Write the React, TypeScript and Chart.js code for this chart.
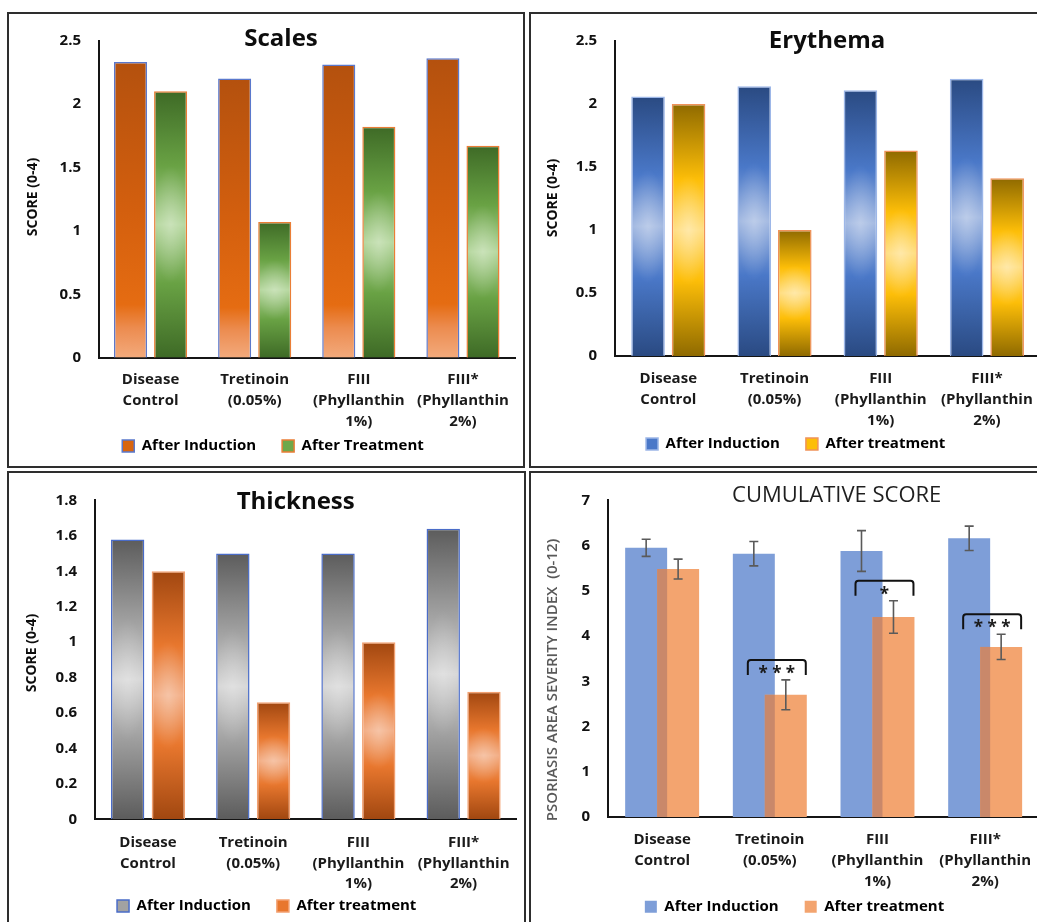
import React, { useEffect, useRef } from "react";
import { Chart, registerables } from "chart.js";

Chart.register(...registerables);

const FONT = '"Open Sans", "Liberation Sans", sans-serif';

// Treatment groups on every x axis (multi-line labels)
const groups: string[][] = [
  ["Disease", "Control"],
  ["Tretinoin", "(0.05%)"],
  ["FIII", "(Phyllanthin", "1%)"],
  ["FIII*", "(Phyllanthin", "2%)"],
];

// Scales score
const scalesInduction = [2.33, 2.2, 2.31, 2.36];
const scalesTreatment = [2.1, 1.07, 1.82, 1.67];
const scalesTicks = [0, 0.5, 1, 1.5, 2, 2.5];

// Erythema score
const erythemaInduction = [2.06, 2.14, 2.11, 2.2];
const erythemaTreatment = [2.0, 1.0, 1.63, 1.41];
const erythemaTicks = [0, 0.5, 1, 1.5, 2, 2.5];

// Thickness score
const thicknessInduction = [1.58, 1.5, 1.5, 1.64];
const thicknessTreatment = [1.4, 0.66, 1.0, 0.72];
const thicknessTicks = [0, 0.2, 0.4, 0.6, 0.8, 1, 1.2, 1.4, 1.6, 1.8];

// Cumulative PASI score, mean and error
const cumulativeInduction = [5.95, 5.82, 5.88, 6.16];
const cumulativeInductionErr = [0.19, 0.27, 0.45, 0.27];
const cumulativeTreatment = [5.48, 2.7, 4.42, 3.76];
const cumulativeTreatmentErr = [0.22, 0.33, 0.36, 0.28];
const cumulativeSignificance = ["", "***", "*", "***"];
const cumulativeTicks = [0, 1, 2, 3, 4, 5, 6, 7];

type Stop = [number, string];
type Rect = { x: number; y: number; w: number; h: number };
type Series = {
  label: string;
  data: number[];
  color: string;
  stops?: Stop[];
  glow?: number;
  border?: string;
  borderWidth?: number;
};
type PanelSpec = {
  box: Rect;
  canvas: Rect;
  area: { L: number; T: number; R: number; B: number };
  legendAt: { x: number; y: number };
  title: string;
  titleFont: string;
  titleColor: string;
  titleAt: { x: number; y: number };
  yTitle: string;
  yTitleFont: string;
  yTitleColor: string;
  yTitleAt: { x: number; y: number };
  ticks: number[];
  series: Series[];
  catPct: number;
  barPct: number;
  tickPad: number;
  xTickPad: number;
  cumulative?: boolean;
};

// Vertical gradient with a soft centre highlight, stretched over each bar
function paintBarImage(stops: Stop[], glow: number): HTMLCanvasElement {
  const c = document.createElement("canvas");
  c.width = 40;
  c.height = 300;
  const g = c.getContext("2d")!;
  const lin = g.createLinearGradient(0, 0, 0, 300);
  stops.forEach(([o, col]) => lin.addColorStop(o, col));
  g.fillStyle = lin;
  g.fillRect(0, 0, 40, 300);
  if (glow > 0) {
    g.save();
    g.translate(20, 150);
    g.scale(1, 3);
    const r = g.createRadialGradient(0, 0, 0, 0, 0, 22);
    r.addColorStop(0, `rgba(255,255,255,${glow})`);
    r.addColorStop(1, "rgba(255,255,255,0)");
    g.fillStyle = r;
    g.fillRect(-20, -50, 40, 100);
    g.restore();
  }
  return c;
}

// Same bar placement rule Chart.js uses for grouped category bars
function barGeometry(chart: any, datasetIndex: number, index: number, value: number, catPct: number, barPct: number, count: number) {
  const xs = chart.scales.x;
  const ys = chart.scales.y;
  const catW = xs.width / xs.getLabels().length;
  const slot = (catW * catPct) / count;
  const w = slot * barPct;
  const cx = xs.getPixelForValue(index) + (datasetIndex - (count - 1) / 2) * slot;
  const top = ys.getPixelForValue(value);
  const base = ys.getPixelForValue(0);
  return { left: cx - w / 2, right: cx + w / 2, cx, top, base, width: w };
}

function patternFill(img: HTMLCanvasElement, solid: string, catPct: number, barPct: number) {
  return (c: any) => {
    if (c.type !== "data" || !c.chart.scales || !c.chart.scales.x) return solid;
    const g = barGeometry(c.chart, c.datasetIndex, c.dataIndex, c.raw, catPct, barPct, 2);
    const h = g.base - g.top;
    if (!(h > 0) || !(g.width > 0)) return solid;
    const p = c.chart.ctx.createPattern(img, "no-repeat");
    p.setTransform(new DOMMatrix().translate(g.left, g.top).scale(g.width / img.width, h / img.height));
    return p;
  };
}

function textPlugin(spec: PanelSpec) {
  return {
    id: "panelText",
    afterDraw(chart: any) {
      const ctx = chart.ctx;
      const ox = spec.canvas.x;
      const oy = spec.canvas.y;
      ctx.save();
      ctx.textAlign = "center";
      ctx.textBaseline = "middle";
      ctx.fillStyle = spec.titleColor;
      ctx.font = spec.titleFont;
      ctx.fillText(spec.title, spec.titleAt.x - ox, spec.titleAt.y - oy);
      ctx.translate(spec.yTitleAt.x - ox, spec.yTitleAt.y - oy);
      ctx.rotate(-Math.PI / 2);
      ctx.fillStyle = spec.yTitleColor;
      ctx.font = spec.yTitleFont;
      ctx.fillText(spec.yTitle, 0, 0);
      ctx.restore();
    },
  };
}

const OVERLAP_SHADE = "#C9886A";

// Draws induction bars first, treatment bars on top, then error bars and significance brackets
function cumulativePlugin(spec: PanelSpec) {
  return {
    id: "cumulativeLayers",
    beforeDatasetsDraw(chart: any) {
      const ctx = chart.ctx;
      const metas = chart.getSortedVisibleDatasetMetas().slice().sort((a: any, b: any) => a.index - b.index);
      metas.forEach((m: any) => m.controller.draw());
      const ys = chart.scales.y;
      const geo = (ds: number, i: number, v: number) => barGeometry(chart, ds, i, v, spec.catPct, spec.barPct, 2);
      ctx.save();
      cumulativeTreatment.forEach((v, i) => {
        const a = geo(0, i, cumulativeInduction[i]);
        const b = geo(1, i, v);
        const left = Math.max(a.left, b.left);
        const right = Math.min(a.right, b.right);
        const top = Math.max(a.top, b.top);
        if (right > left) {
          ctx.fillStyle = OVERLAP_SHADE;
          ctx.fillRect(left, top, right - left, b.base - top);
        }
      });
      ctx.strokeStyle = "#5a5a5a";
      ctx.lineWidth = 1.6;
      const errBar = (cx: number, v: number, e: number) => {
        const y1 = ys.getPixelForValue(v + e);
        const y2 = ys.getPixelForValue(v - e);
        ctx.beginPath();
        ctx.moveTo(cx, y1);
        ctx.lineTo(cx, y2);
        ctx.moveTo(cx - 4.5, y1);
        ctx.lineTo(cx + 4.5, y1);
        ctx.moveTo(cx - 4.5, y2);
        ctx.lineTo(cx + 4.5, y2);
        ctx.stroke();
      };
      cumulativeInduction.forEach((v, i) => errBar(geo(0, i, v).cx, v, cumulativeInductionErr[i]));
      cumulativeTreatment.forEach((v, i) => errBar(geo(1, i, v).cx, v, cumulativeTreatmentErr[i]));
      ctx.strokeStyle = "#111";
      ctx.fillStyle = "#1a1a1a";
      ctx.lineWidth = 2;
      ctx.font = `bold 17px ${FONT}`;
      ctx.textAlign = "center";
      ctx.textBaseline = "alphabetic";
      cumulativeSignificance.forEach((mark, i) => {
        if (!mark) return;
        const a = geo(0, i, cumulativeInduction[i]);
        const b = geo(1, i, cumulativeTreatment[i]);
        const errTop = ys.getPixelForValue(cumulativeTreatment[i] + cumulativeTreatmentErr[i]);
        const top = errTop - 20;
        const legs = 15;
        const left = a.cx - 6;
        const right = b.right - 1;
        ctx.beginPath();
        ctx.moveTo(left, top + legs);
        ctx.arcTo(left, top, left + 6, top, 3);
        ctx.arcTo(right, top, right, top + 6, 3);
        ctx.lineTo(right, top + legs);
        ctx.stroke();
        ctx.fillText(mark.split("").join(" "), (left + right) / 2, top + 19);
      });
      ctx.restore();
      return false;
    },
  };
}

function createPanelChart(el: HTMLCanvasElement, spec: PanelSpec) {
  const LEGEND_FONT = 15;
  const LEGEND_GAP = 26;
  const BOX = 12;
  const itemH = Math.max(LEGEND_FONT, BOX);
  const { canvas: cv, area } = spec;
  const pr = cv.x + cv.w - area.R;
  const pl = 2 * (spec.legendAt.x - cv.x) - cv.w + pr;
  const yWidth = area.L - cv.x - pl;
  const pt = area.T - cv.y;
  const pb = cv.y + cv.h - spec.legendAt.y - 10 - itemH / 2;
  const legendH = itemH + LEGEND_GAP + 10;
  const xHeight = cv.y + cv.h - pb - legendH - area.B;

  const datasets = spec.series.map((s) => ({
    label: s.label,
    data: s.data,
    backgroundColor: s.stops
      ? patternFill(paintBarImage(s.stops, s.glow || 0), s.color, spec.catPct, spec.barPct)
      : s.color,
    borderColor: s.border || s.color,
    borderWidth: s.borderWidth || 0,
    borderSkipped: "bottom",
    categoryPercentage: spec.catPct,
    barPercentage: spec.barPct,
  }));

  const plugins: any[] = [textPlugin(spec)];
  if (spec.cumulative) plugins.push(cumulativePlugin(spec));

  return new Chart(el, {
    type: "bar",
    data: { labels: groups, datasets } as any,
    plugins,
    options: {
      responsive: false,
      animation: false,
      devicePixelRatio: 1,
      events: [],
      layout: { padding: { left: pl, right: pr, top: pt, bottom: pb } },
      scales: {
        x: {
          z: 1,
          grid: { display: false, drawTicks: false },
          border: { display: true, color: "#151515", width: 2 },
          ticks: {
            autoSkip: false,
            maxRotation: 0,
            minRotation: 0,
            padding: spec.xTickPad,
            color: "#1a1a1a",
            font: { family: FONT, size: 15, weight: "bold", lineHeight: 1.38 },
          },
          afterFit: (s: any) => {
            s.height = xHeight;
            // three-line group names run below the axis box; keep them unclipped
            s._computeLabelArea = () => undefined;
          },
        },
        y: {
          min: spec.ticks[0],
          max: spec.ticks[spec.ticks.length - 1],
          grid: { display: false, drawTicks: false },
          border: { display: true, color: "#151515", width: 2 },
          ticks: {
            padding: spec.tickPad,
            color: "#111",
            font: { family: FONT, size: 15, weight: "bold" },
            callback: (v: any) => String(v),
          },
          afterBuildTicks: (s: any) => {
            s.ticks = spec.ticks.map((value) => ({ value }));
          },
          afterFit: (s: any) => {
            s.width = yWidth;
          },
        },
      },
      plugins: {
        title: { display: false },
        tooltip: { enabled: false },
        legend: {
          position: "bottom",
          onClick: () => {},
          labels: {
            boxWidth: BOX,
            boxHeight: BOX,
            padding: LEGEND_GAP,
            color: "#262626",
            font: { family: FONT, size: LEGEND_FONT, weight: "bold" },
            generateLabels: () =>
              spec.series.map((s, i) => ({
                text: s.label,
                fillStyle: s.color,
                strokeStyle: s.border || s.color,
                lineWidth: s.borderWidth ? 1.5 : 0,
                hidden: false,
                datasetIndex: i,
              })),
          },
        },
      },
    } as any,
  });
}

const BOLD_TITLE = `bold 24px ${FONT}`;
const SCORE_AXIS_FONT = `bold 14px ${FONT}`;

const scalesPanel: PanelSpec = {
  box: { x: 7, y: 12, w: 518, h: 456 },
  canvas: { x: 9, y: 14, w: 514, h: 452 },
  area: { L: 98.5, T: 28.5, R: 515, B: 357.7 },
  legendAt: { x: 273, y: 446 },
  title: "Scales",
  titleFont: BOLD_TITLE,
  titleColor: "#0d0d0d",
  titleAt: { x: 281, y: 39 },
  yTitle: "SCORE (0-4)",
  yTitleFont: SCORE_AXIS_FONT,
  yTitleColor: "#0d0d0d",
  yTitleAt: { x: 33, y: 197 },
  ticks: scalesTicks,
  catPct: 0.77,
  barPct: 0.825,
  tickPad: 17.5,
  xTickPad: 11.8,
  series: [
    {
      label: "After Induction",
      data: scalesInduction,
      color: "#D8650F",
      stops: [[0, "#B4510E"], [0.5, "#D35F0E"], [0.82, "#E56C12"], [0.9, "#EC8C50"], [1, "#F3AA7C"]],
      glow: 0,
      border: "#5A78CC",
      borderWidth: 1.5,
    },
    {
      label: "After Treatment",
      data: scalesTreatment,
      color: "#6FA84A",
      stops: [[0, "#3E6A26"], [0.28, "#69A244"], [0.5, "#B3D69B"], [0.72, "#69A244"], [1, "#3E6A26"]],
      glow: 0.3,
      border: "#EA7E36",
      borderWidth: 1.5,
    },
  ],
};

const erythemaPanel: PanelSpec = {
  box: { x: 529, y: 12, w: 600, h: 456 },
  canvas: { x: 531, y: 14, w: 529, h: 452 },
  area: { L: 615.2, T: 27.3, R: 1040, B: 356 },
  legendAt: { x: 795.7, y: 444 },
  title: "Erythema",
  titleFont: BOLD_TITLE,
  titleColor: "#0d0d0d",
  titleAt: { x: 827, y: 40.7 },
  yTitle: "SCORE (0-4)",
  yTitleFont: SCORE_AXIS_FONT,
  yTitleColor: "#0d0d0d",
  yTitleAt: { x: 553, y: 198 },
  ticks: erythemaTicks,
  catPct: 0.763,
  barPct: 0.83,
  tickPad: 18,
  xTickPad: 12.5,
  series: [
    {
      label: "After Induction",
      data: erythemaInduction,
      color: "#4A78C8",
      stops: [[0, "#2A4A82"], [0.3, "#4A78C8"], [0.5, "#9FB6E0"], [0.7, "#4A78C8"], [1, "#2A4A82"]],
      glow: 0.3,
      border: "#9DB7E8",
      borderWidth: 1.5,
    },
    {
      label: "After treatment",
      data: erythemaTreatment,
      color: "#FDBE08",
      stops: [[0, "#8F6A00"], [0.3, "#FDBE08"], [0.5, "#FFDC7A"], [0.7, "#FDBE08"], [1, "#8F6A00"]],
      glow: 0.35,
      border: "#F0925A",
      borderWidth: 1.5,
    },
  ],
};

const thicknessPanel: PanelSpec = {
  box: { x: 7, y: 471, w: 519, h: 500 },
  canvas: { x: 9, y: 473, w: 515, h: 460 },
  area: { L: 95.4, T: 492.7, R: 516.2, B: 819.3 },
  legendAt: { x: 266.7, y: 906 },
  title: "Thickness",
  titleFont: BOLD_TITLE,
  titleColor: "#0d0d0d",
  titleAt: { x: 295.7, y: 501.7 },
  yTitle: "SCORE (0-4)",
  yTitleFont: SCORE_AXIS_FONT,
  yTitleColor: "#0d0d0d",
  yTitleAt: { x: 32, y: 653 },
  ticks: thicknessTicks,
  catPct: 0.774,
  barPct: 0.82,
  tickPad: 18.4,
  xTickPad: 12.9,
  series: [
    {
      label: "After Induction",
      data: thicknessInduction,
      color: "#A2A2A2",
      stops: [[0, "#5C5C5C"], [0.3, "#A2A2A2"], [0.5, "#D6D6D6"], [0.7, "#A2A2A2"], [1, "#5C5C5C"]],
      glow: 0.25,
      border: "#4A6CC8",
      borderWidth: 1.5,
    },
    {
      label: "After treatment",
      data: thicknessTreatment,
      color: "#E8772E",
      stops: [[0, "#A14710"], [0.3, "#E8772E"], [0.5, "#F2AA80"], [0.7, "#E8772E"], [1, "#A14710"]],
      glow: 0.3,
      border: "#F2A070",
      borderWidth: 1.5,
    },
  ],
};

const cumulativePanel: PanelSpec = {
  box: { x: 529, y: 471, w: 600, h: 500 },
  canvas: { x: 531, y: 473, w: 529, h: 460 },
  area: { L: 608.3, T: 485, R: 1039, B: 817 },
  legendAt: { x: 794.5, y: 906.7 },
  title: "CUMULATIVE SCORE",
  titleFont: `22px ${FONT}`,
  titleColor: "#1f1f1f",
  titleAt: { x: 836.7, y: 496 },
  yTitle: "PSORIASIS AREA SEVERITY INDEX  (0-12)",
  yTitleFont: `600 15px ${FONT}`,
  yTitleColor: "#595959",
  yTitleAt: { x: 553, y: 680 },
  ticks: cumulativeTicks,
  catPct: 0.594,
  barPct: 1.3125,
  tickPad: 18.3,
  xTickPad: 12.5,
  cumulative: true,
  series: [
    { label: "After Induction", data: cumulativeInduction, color: "#7E9ED8" },
    { label: "After treatment", data: cumulativeTreatment, color: "#F3A46F" },
  ],
};

function ChartPanel({ spec }: { spec: PanelSpec }) {
  const ref = useRef<HTMLCanvasElement | null>(null);
  useEffect(() => {
    if (!ref.current) return;
    const chart = createPanelChart(ref.current, spec);
    return () => chart.destroy();
  }, [spec]);
  const { box, canvas } = spec;
  return (
    <>
      <div
        style={{
          position: "absolute",
          left: box.x,
          top: box.y,
          width: box.w,
          height: box.h,
          border: "2px solid #2e2e2e",
          boxSizing: "border-box",
        }}
      />
      <canvas
        ref={ref}
        width={canvas.w}
        height={canvas.h}
        style={{ position: "absolute", left: canvas.x, top: canvas.y, width: canvas.w, height: canvas.h }}
      />
    </>
  );
}

export default function App() {
  return (
    <div
      style={{
        position: "absolute",
        left: 0,
        top: 0,
        width: 1037,
        height: 922,
        overflow: "hidden",
        background: "#ffffff",
      }}
    >
      <ChartPanel spec={scalesPanel} />
      <ChartPanel spec={erythemaPanel} />
      <ChartPanel spec={thicknessPanel} />
      <ChartPanel spec={cumulativePanel} />
    </div>
  );
}
